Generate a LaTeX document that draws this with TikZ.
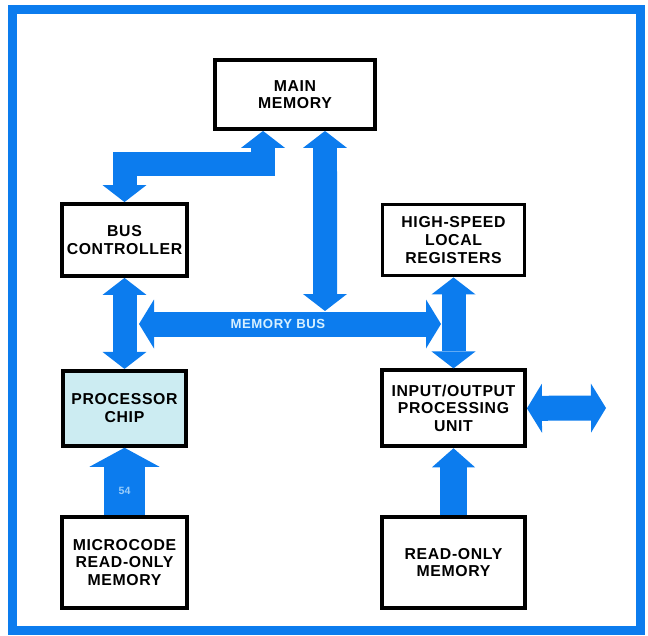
\documentclass[tikz,border=0pt]{standalone}
\usepackage{fontspec}
\setmainfont{Liberation Sans}
\newfontfamily\labelfont[LetterSpace=4]{Liberation Sans}
\usetikzlibrary{arrows.meta, positioning}

\definecolor{busblue}{RGB}{12,124,238}
\definecolor{chipfill}{RGB}{204,236,242}
\definecolor{buslabel}{RGB}{214,240,255}

\begin{document}
\begin{tikzpicture}[
    x=0.02cm, y=-0.02cm,
    box/.style={draw, line width=2.2pt, align=center, inner sep=0pt,
        font=\labelfont\fontsize{9}{10}\selectfont\bfseries},
    bus/.style={draw=busblue, line width=0.48cm,
        {Triangle[width=0.88cm, length=0.34cm, line width=0pt]}-{Triangle[width=0.88cm, length=0.34cm, line width=0pt]}},
    membus/.style={draw=busblue, line width=0.5cm,
        {Triangle[width=0.98cm, length=0.3cm, line width=0pt]}-{Triangle[width=0.98cm, length=0.3cm, line width=0pt]}},
    feed/.style={draw=busblue, -{Triangle[width=#1, length=0.38cm, line width=0pt]}}
]

\useasboundingbox (0,0) rectangle (648,635);

% frame
\draw[busblue, line width=0.18cm] (12.5,9.5) rectangle (640,630.5);

% left column
\node[box, minimum width=2.5cm, minimum height=1.44cm] (bc) at (124.5,240) {BUS\\CONTROLLER};
\node[box, fill=chipfill, minimum width=2.46cm, minimum height=1.5cm, below=1.82cm of bc] (pc) {PROCESSOR\\CHIP};
\node[box, minimum width=2.5cm, minimum height=1.82cm, below=1.34cm of pc] (mc) {MICROCODE\\READ-ONLY\\MEMORY};

% top
\node[box, minimum width=3.2cm, minimum height=1.38cm] (mm) at (295,94.5) {MAIN\\MEMORY};

% right column
\node[box, minimum width=2.84cm, minimum height=1.42cm] (hr) at (453.5,240) {HIGH-SPEED\\LOCAL\\REGISTERS};
\node[box, minimum width=2.86cm, minimum height=1.52cm, below=1.82cm of hr] (io) {INPUT/OUTPUT\\PROCESSING\\UNIT};
\node[box, minimum width=2.86cm, minimum height=1.82cm, below=1.34cm of io] (rom) {READ-ONLY\\MEMORY};

% bus ends
\coordinate (lb) at (139,324);
\coordinate (rb) at (441,324);
\coordinate (mb) at (325,311);
\coordinate (ext) at (606,408);

% buses
\draw[membus] (lb) -- (rb)
    node[pos=0.46, text=buslabel, font=\labelfont\fontsize{7.5}{7.5}\selectfont\bfseries] {MEMORY BUS};
\draw[bus] ([xshift=-0.64cm]mm.south) -- ++(0,33) -| (bc.north);
\draw[bus] ([xshift=0.6cm]mm.south) -- (mb);
\draw[bus] (bc.south) -- (pc.north);
\draw[bus] (hr.south) -- (io.north);
\draw[membus] (io.east) -- (ext);
\draw[feed=1.4cm, line width=0.84cm] (mc.north) -- (pc.south)
    node[pos=0.35, text=buslabel!70!busblue, font=\fontsize{6}{6}\selectfont\bfseries] {54};
\draw[feed=0.86cm, line width=0.54cm] (rom.north) -- (io.south);

\end{tikzpicture}
\end{document}
